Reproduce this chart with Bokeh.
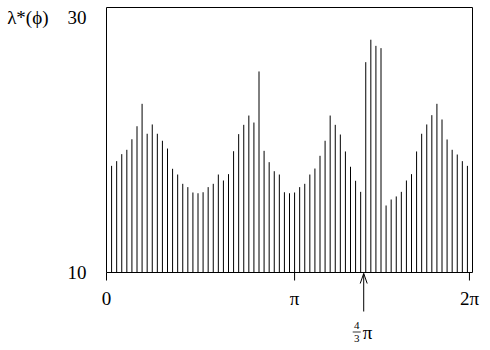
from bokeh.plotting import figure
from bokeh.models import FixedTicker, Range1d
from bokeh.core.properties import value
from bokeh.embed import file_html
from bokeh.resources import INLINE

# angle of each bar in degrees (5 degree steps)
angles = [5 * k for k in range(1, 72)]
lam = [18.37, 18.74, 19.29, 19.63, 20.46, 21.48, 23.24, 20.89, 21.62, 20.89,
       20.34, 19.73, 18.14, 17.69, 16.96, 16.70, 16.28, 16.22, 16.30, 16.70,
       16.96, 17.69, 17.22, 17.72, 19.52, 20.86, 21.59, 22.32, 21.77, 25.78,
       19.55, 18.66, 17.95, 17.69, 16.30, 16.22, 16.28, 16.70, 16.96, 17.69,
       18.16, 19.16, 20.34, 22.32, 21.59, 20.83, 19.50, 18.30, 17.20, 16.33,
       26.51, 28.27, 27.79, 27.61, 15.26, 15.73, 15.97, 16.33, 17.22, 17.72,
       19.50, 20.89, 21.62, 22.35, 23.24, 22.01, 20.44, 19.63, 19.26, 18.74,
       18.37]
x_tick_pos = [0, 185, 357]
x_tick_lab = ["0", "π", "2π"]
y_ticks = [10, 30]
y_tick_lab = {30: "λ*(ϕ)\u200330"}
marker_pos = 253          # where the 4/3 pi arrow points
marker_num, marker_den = ["4"], ["3"]
marker_sym = ["π"]

# plotting window (data units)
X_LO, X_HI = 0, 360
Y_LO, Y_HI = 10, 30.8
PXX = 366 / 360           # px per degree
PXY = 265 / 20.8          # px per y unit
def dy(px):               # px below the axis -> y value
    return Y_LO - px / PXY
def dx(px):
    return px / PXX

SERIF = "Liberation Serif"
BLACK = "black"

p = figure(width=484, height=345, output_backend="svg", toolbar_location=None,
           x_range=Range1d(X_LO - dx(10), X_HI + dx(12)),
           y_range=Range1d(dy(73), Y_HI + 2 / PXY),
           x_axis_location=None,
           min_border_left=96, min_border_right=0, min_border_top=5,
           min_border_bottom=0)
p.grid.visible = False
p.outline_line_color = None

# bars
p.segment(x0=angles, y0=[Y_LO] * len(angles), x1=angles, y1=lam,
          line_color=BLACK, line_width=1)

# box around the plotting window
p.segment(x0=[X_LO, X_LO, X_HI, X_LO], y0=[Y_LO, Y_HI, Y_LO, Y_LO],
          x1=[X_LO, X_HI, X_HI, X_HI], y1=[Y_HI, Y_HI, Y_HI, Y_LO],
          line_color=BLACK, line_width=1)

# x ticks and tick labels
p.segment(x0=x_tick_pos, y0=[Y_LO] * 3, x1=x_tick_pos, y1=[dy(8)] * 3,
          line_color=BLACK, line_width=1)
p.text(x=x_tick_pos, y=[dy(26)] * 3, text=x_tick_lab, text_font=value(SERIF),
       text_font_size="19px", text_align="center", text_baseline="alphabetic",
       text_color=BLACK)

# arrow marking 4/3 pi
p.segment(x0=[marker_pos], y0=[dy(39)], x1=[marker_pos], y1=[dy(1)],
          line_color=BLACK, line_width=1)
p.segment(x0=[marker_pos - dx(3.5), marker_pos + dx(3.5)], y0=[dy(11)] * 2,
          x1=[marker_pos] * 2, y1=[dy(1)] * 2, line_color=BLACK, line_width=1)
p.text(x=[marker_pos - dx(7)], y=[dy(53)], text=marker_num, text_font=value(SERIF),
       text_font_size="11px", text_align="center", text_baseline="middle",
       text_color=BLACK)
p.text(x=[marker_pos - dx(7)], y=[dy(66)], text=marker_den, text_font=value(SERIF),
       text_font_size="11px", text_align="center", text_baseline="middle",
       text_color=BLACK)
p.segment(x0=[marker_pos - dx(11)], y0=[dy(59.5)], x1=[marker_pos - dx(3)],
          y1=[dy(59.5)], line_color=BLACK, line_width=0.8)
p.text(x=[marker_pos - dx(1)], y=[dy(60)], text=marker_sym, text_font=value(SERIF),
       text_font_size="19px", text_align="left", text_baseline="middle",
       text_color=BLACK)

# y axis (labels only)
ya = p.yaxis[0]
ya.ticker = FixedTicker(ticks=y_ticks)
ya.major_label_overrides = y_tick_lab
ya.axis_line_color = None
ya.major_tick_line_color = None
ya.minor_tick_line_color = None
ya.major_label_text_font = SERIF
ya.major_label_text_font_size = "19px"
ya.major_label_text_color = BLACK
ya.major_label_standoff = 4

open("out.html", "w").write(file_html(p, INLINE))
